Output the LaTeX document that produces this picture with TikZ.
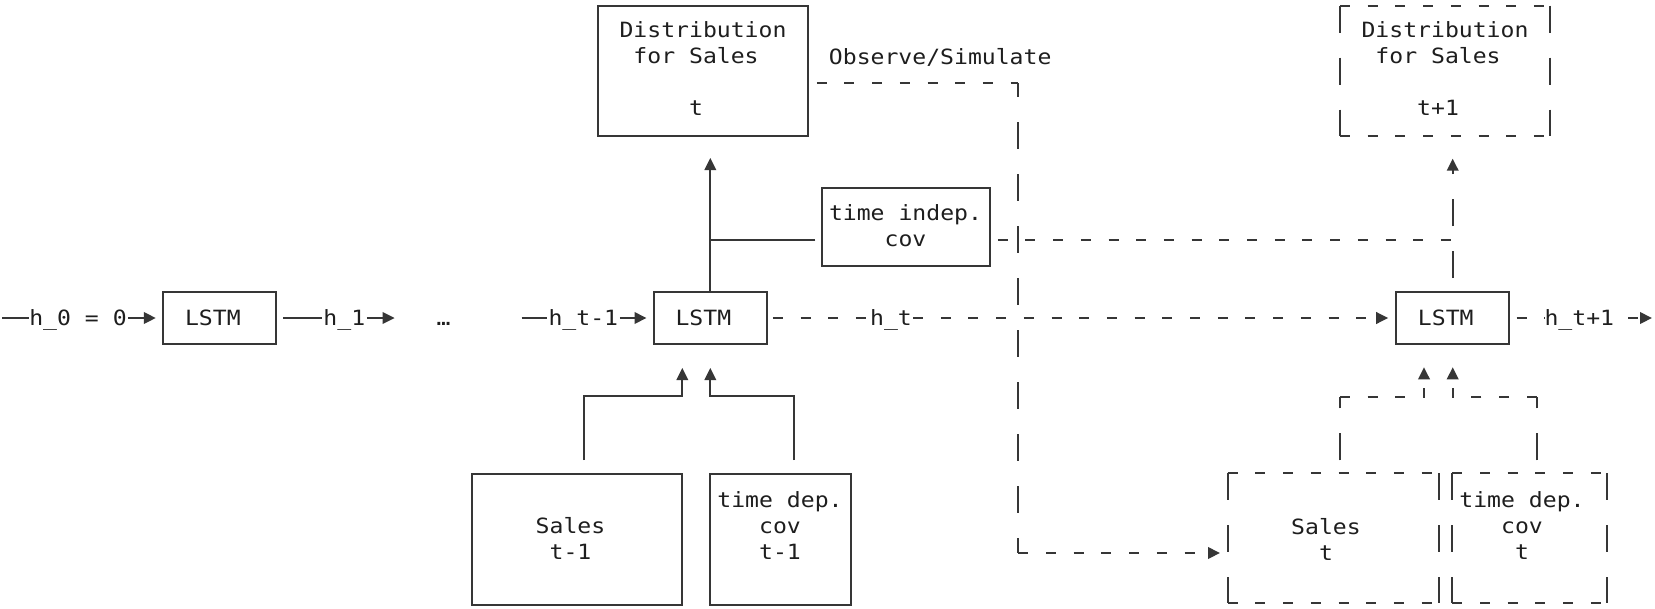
\documentclass[tikz,border=0pt]{standalone}
\usepackage{fontspec}
\usetikzlibrary{arrows.meta}
\newfontfamily\monofam[FakeStretch=1.1]{DejaVu Sans Mono}
\newcommand\mono{\monofam\fontsize{21pt}{26pt}\selectfont}
\newcommand\lnstrut{\rule[-4pt]{0pt}{22pt}}
\definecolor{ink}{HTML}{1E1E1E}
\definecolor{wirecol}{HTML}{363636}
% a box outline drawn with short dashes along the top and bottom
% and longer dashes down the sides
\newcommand\dashedframe[1]{%
  \draw[hdash] (#1.north west) -- (#1.north east);
  \draw[hdash] (#1.south west) -- (#1.south east);
  \draw[vdash] (#1.north west) -- (#1.south west);
  \draw[vdash] (#1.north east) -- (#1.south east);}
\begin{document}
\begin{tikzpicture}[x=1pt,y=-1pt,
  wire/.style={draw=wirecol, line width=2pt},
  hdash/.style={wire, dash pattern=on 10pt off 17.7pt},
  vdash/.style={wire, dash pattern=on 27pt off 25pt},
  tip/.style={-{Triangle[length=12pt,width=11.5pt]}},
  lbl/.style={font=\mono, text=ink, inner sep=0pt, text height=15.3pt, text depth=0pt},
  mlbl/.style={font=\mono, text=ink, inner sep=0pt, align=center},
  solidbox/.style={draw=wirecol, line width=2pt, lbl, outer sep=0pt},
  ghostbox/.style={inner sep=0pt, outer sep=0pt}]

\fill[white] (0,0) rectangle (1655,608);
\useasboundingbox (0,0) rectangle (1655,608);

% ---- cells of the recurrent chain
\node[solidbox, minimum width=113pt, minimum height=52pt] (lstm1) at (219.8,318) {LSTM\hphantom{x}};
\node[solidbox, minimum width=113pt, minimum height=52pt] (lstm2) at (710.3,318) {LSTM\hphantom{x}};
\node[solidbox, minimum width=113pt, minimum height=52pt] (lstm3) at (1452.7,318) {LSTM\hphantom{x}};

% ---- output distributions
\node[solidbox, minimum width=210.3pt, minimum height=130pt] (dist1) at (703.2,70.7) {};
\node[mlbl] (dist1txt) at (703,69.5)
  {\lnstrut Distribution\\\lnstrut for Sales\hphantom{x}\\[26pt]\lnstrut t\hphantom{x}};
\node[ghostbox, minimum width=210pt, minimum height=130pt] (dist2) at (1445,70.7) {};
\dashedframe{dist2}
\node[mlbl] (dist2txt) at (1445,69.5)
  {\lnstrut Distribution\\\lnstrut for Sales\hphantom{x}\\[26pt]\lnstrut t+1\hphantom{x}};

% ---- static covariates
\node[solidbox, minimum width=167.7pt, minimum height=77.4pt] (tind) at (906.2,227) {};
\node[mlbl] (tindtxt) at (905.5,226.5) {\lnstrut time indep.\\\lnstrut cov};

% ---- inputs at t-1
\node[solidbox, minimum width=210pt, minimum height=131pt] (sales1) at (577.3,539.5) {};
\node[mlbl] (sales1txt) at (570.5,539) {\lnstrut Sales\\\lnstrut t-1};
\node[solidbox, minimum width=141pt, minimum height=131pt] (tdep1) at (780.5,539.5) {};
\node[mlbl] (tdep1txt) at (780,526) {\lnstrut time dep.\\\lnstrut cov\\\lnstrut t-1};

% ---- inputs at t
\node[ghostbox, minimum width=211.6pt, minimum height=129.4pt] (sales2) at (1333.5,538) {};
\dashedframe{sales2}
\node[mlbl] (sales2txt) at (1326,540) {\lnstrut Sales\\\lnstrut t};
\node[ghostbox, minimum width=154.4pt, minimum height=129.4pt] (tdep2) at (1529.5,538) {};
\dashedframe{tdep2}
\node[mlbl] (tdep2txt) at (1522,526.5) {\lnstrut time dep.\\\lnstrut cov\\\lnstrut t};

% ---- hidden state along the chain
\coordinate (h0start) at (2,318);
\node[lbl] (h0) at (78,318) {h\_0 = 0};
\draw[wire] (h0start) -- (h0.west);
\draw[wire, tip, shorten <=1.5pt, shorten >=7.5pt] (h0.east) -- (lstm1.west);

\node[lbl] (h1) at (344.3,318) {h\_1};
\coordinate (h1end) at (394.6,318);
\draw[wire, shorten <=7pt, shorten >=1.5pt] (lstm1.east) -- (h1.west);
\draw[wire, tip, shorten <=1.5pt] (h1.east) -- (h1end);

\node[lbl] (dots) at (443.5,318) {…};

\coordinate (htm1start) at (521.7,318);
\node[lbl] (htm1) at (583.3,318) {h\_t-1};
\draw[wire, shorten >=1.5pt] (htm1start) -- (htm1.west);
\draw[wire, tip, shorten <=1.5pt, shorten >=7.3pt] (htm1.east) -- (lstm2.west);

\node[lbl] (ht) at (891,318) {h\_t};
\draw[hdash, shorten <=6pt] (lstm2.east) -- (ht.west);
\draw[hdash, tip, shorten <=1pt, shorten >=8pt] (ht.east) -- (lstm3.west);

\node[lbl] (ht1) at (1579.3,318) {h\_t+1};
\coordinate (ht1end) at (1652,318);
\draw[hdash, shorten <=7.4pt] (lstm3.east) -- (ht1.west);
\draw[hdash, tip, shorten <=14pt] (ht1.east) -- (ht1end);

% ---- cell outputs to the distributions
\draw[wire, tip, shorten >=22.3pt] (lstm2.north) -- (lstm2.north |- dist1.south);
\coordinate (tj) at (710.3,240);
\draw[wire, shorten <=7pt] (tind.west |- tj) -- (tj);
\draw[hdash, shorten <=7.7pt] (tind.east |- tj) -- (tj -| lstm3.north);
\draw[vdash, dash phase=38pt, tip, shorten >=23pt] (lstm3.north) -- (lstm3.north |- dist2.south);

% ---- observed or simulated value fed back as next input
\node[lbl] (obs) at (940.2,57.3) {Observe/Simulate};
\coordinate (o1) at (1018.3,83.3);
\coordinate (o2) at (1018.3,553);
\draw[hdash, shorten <=8.4pt] (dist1.east |- o1) -- (o1);
\draw[vdash, dash phase=13pt] (o1) -- (o2);
\draw[hdash, tip, shorten >=7.7pt] (o2) -- (o2 -| sales2.west);

% ---- inputs into the cells
\coordinate (s1e) at (584,396);
\coordinate (d1e) at (794,396);
\draw[wire, tip, shorten <=14pt, shorten >=24pt] (sales1.north -| s1e) -- (s1e) -| ([xshift=-28pt]lstm2.south);
\draw[wire, tip, shorten <=14pt, shorten >=24pt] (tdep1.north -| d1e) -- (d1e) -| (lstm2.south);

\coordinate (s2e) at (1340,396.7);
\coordinate (d2e) at (1536.7,396.7);
\draw[vdash, shorten <=13pt] (sales2.north -| s2e) -- (s2e);
\draw[hdash, tip, shorten >=23.3pt] (s2e) -| ([xshift=-28.7pt]lstm3.south);
\draw[vdash, shorten <=13pt] (tdep2.north -| d2e) -- (d2e);
\draw[hdash, tip, shorten >=23.3pt] (d2e) -| (lstm3.south);
\end{tikzpicture}
\end{document}
